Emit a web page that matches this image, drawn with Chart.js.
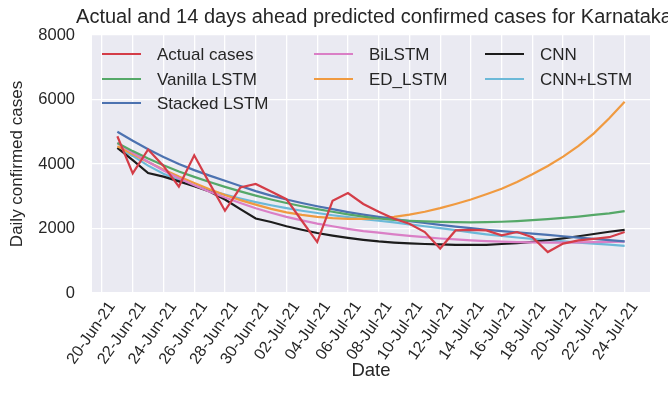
<!DOCTYPE html>
<html>
<head>
<meta charset="utf-8">
<script src="https://cdn.jsdelivr.net/npm/chart.js@4.4.0/dist/chart.umd.min.js"></script>
<style>
  html, body { margin: 0; padding: 0; background: #fff; }
  #wrap { width: 668px; height: 407px; }
</style>
</head>
<body>
<div id="wrap"><canvas id="myChart"></canvas></div>
<script>
'use strict'

// ------------------------- Data -------------------------------------- //
const dates = [
    '21-Jun-21', '22-Jun-21', '23-Jun-21', '24-Jun-21', '25-Jun-21',
    '26-Jun-21', '27-Jun-21', '28-Jun-21', '29-Jun-21', '30-Jun-21',
    '01-Jul-21', '02-Jul-21', '03-Jul-21', '04-Jul-21', '05-Jul-21',
    '06-Jul-21', '07-Jul-21', '08-Jul-21', '09-Jul-21', '10-Jul-21',
    '11-Jul-21', '12-Jul-21', '13-Jul-21', '14-Jul-21', '15-Jul-21',
    '16-Jul-21', '17-Jul-21', '18-Jul-21', '19-Jul-21', '20-Jul-21',
    '21-Jul-21', '22-Jul-21', '23-Jul-21', '24-Jul-21'
];

const tickLabels = [
    '20-Jun-21', '22-Jun-21', '24-Jun-21', '26-Jun-21', '28-Jun-21', '30-Jun-21',
    '02-Jul-21', '04-Jul-21', '06-Jul-21', '08-Jul-21', '10-Jul-21', '12-Jul-21',
    '14-Jul-21', '16-Jul-21', '18-Jul-21', '20-Jul-21', '22-Jul-21', '24-Jul-21'
];

const yTicks = [0, 2000, 4000, 6000, 8000];

const actualCases = [4860, 3710, 4450, 3940, 3300, 4270, 3400, 2550, 3270, 3380,
    3150, 2910, 2240, 1580, 2860, 3100, 2760, 2520, 2300, 2150,
    1890, 1380, 1940, 1960, 1940, 1790, 1890, 1730, 1270, 1530,
    1630, 1680, 1730, 1890];
const vanillaLstm = [4650, 4400, 4170, 3960, 3770, 3600, 3440, 3290, 3150, 3020,
    2900, 2790, 2690, 2600, 2520, 2440, 2370, 2310, 2270, 2240,
    2220, 2205, 2195, 2190, 2195, 2210, 2230, 2260, 2290, 2330,
    2370, 2420, 2470, 2540];
const stackedLstm = [5000, 4720, 4460, 4220, 4000, 3810, 3640, 3480, 3320, 3160,
    3020, 2900, 2790, 2690, 2600, 2510, 2430, 2360, 2290, 2230,
    2170, 2110, 2060, 2010, 1960, 1920, 1880, 1840, 1800, 1760,
    1720, 1680, 1640, 1600];
const biLstm = [4650, 4350, 4070, 3800, 3560, 3340, 3140, 2960, 2790, 2630,
    2490, 2360, 2250, 2150, 2070, 1990, 1920, 1870, 1820, 1770,
    1730, 1690, 1660, 1630, 1610, 1590, 1580, 1570, 1565, 1565,
    1570, 1575, 1585, 1595];
const edLstm = [4550, 4300, 4060, 3830, 3610, 3410, 3220, 3040, 2880, 2740,
    2610, 2500, 2420, 2360, 2320, 2300, 2300, 2320, 2360, 2430,
    2520, 2630, 2760, 2900, 3060, 3230, 3440, 3680, 3940, 4230,
    4560, 4950, 5420, 5930];
const cnn = [4500, 4120, 3720, 3610, 3460, 3310, 3150, 2900, 2600, 2310,
    2200, 2070, 1960, 1860, 1780, 1710, 1650, 1600, 1565, 1540,
    1520, 1505, 1495, 1490, 1495, 1520, 1545, 1585, 1635, 1695,
    1760, 1830, 1900, 1960];
const cnnLstm = [4500, 4250, 3950, 3700, 3500, 3330, 3180, 3050, 2930, 2820,
    2720, 2630, 2550, 2480, 2410, 2350, 2290, 2240, 2190, 2130,
    2070, 2010, 1950, 1880, 1820, 1770, 1720, 1680, 1640, 1600,
    1560, 1530, 1500, 1460];

const seriesNames = ['Actual cases', 'Vanilla LSTM', 'Stacked LSTM', 'BiLSTM', 'ED_LSTM', 'CNN', 'CNN+LSTM'];
const seriesValues = [actualCases, vanillaLstm, stackedLstm, biLstm, edLstm, cnn, cnnLstm];
const colors = ['#d43d48', '#55a868', '#4c72b0', '#da7fc6', '#f09a40', '#1c1c1c', '#6cb9d8'];

const titleText = 'Actual and 14 days ahead predicted confirmed cases for Karnataka';

// ------------------------- Funciones -------------------------------------- //
const FONT = '"Liberation Sans", Arial, sans-serif';
const TEXT = '#262626';

// days since 20-Jun-21
function dayNum(label) {
    let parts = label.split('-');
    return (parts[1] === 'Jun' ? 0 : 30) + parseInt(parts[0], 10) - 20;
}

function makeDataset(i) {
    return {
        label: seriesNames[i],
        data: dates.map((d, k) => ({x: dayNum(d), y: seriesValues[i][k]})),
        borderColor: colors[i],
        backgroundColor: colors[i],
        borderWidth: 2.2,
        pointRadius: 0,
        tension: 0
    };
}

// seaborn-like grey panel
const panelPlugin = {
    id: 'panel',
    beforeDraw(chart) {
        const {ctx, chartArea: a} = chart;
        ctx.save();
        ctx.fillStyle = '#fff';
        ctx.fillRect(0, 0, chart.width, chart.height);
        ctx.fillStyle = '#eaeaf2';
        ctx.fillRect(a.left, a.top, a.right - a.left, a.bottom - a.top);
        ctx.restore();
    }
};

// title centred on the axes, like matplotlib
const titlePlugin = {
    id: 'axTitle',
    afterDraw(chart) {
        const {ctx, chartArea: a} = chart;
        ctx.save();
        ctx.font = '20px ' + FONT;
        ctx.fillStyle = TEXT;
        ctx.textAlign = 'center';
        ctx.textBaseline = 'middle';
        ctx.fillText(titleText, (a.left + a.right) / 2 + 3, 17);
        ctx.restore();
    }
};

// 3-column legend filled column by column
const legendPlugin = {
    id: 'colLegend',
    afterDatasetsDraw(chart) {
        const {ctx} = chart;
        const cols = [[0, 1, 2], [3, 4], [5, 6]];
        const colX = [102, 314, 485];
        const rowY = [54, 79, 103];
        ctx.save();
        ctx.font = '17px ' + FONT;
        ctx.textBaseline = 'middle';
        ctx.lineWidth = 2.2;
        cols.forEach((items, c) => {
            items.forEach((idx, r) => {
                const ds = chart.data.datasets[idx];
                ctx.strokeStyle = ds.borderColor;
                ctx.beginPath();
                ctx.moveTo(colX[c], rowY[r]);
                ctx.lineTo(colX[c] + 39, rowY[r]);
                ctx.stroke();
                ctx.fillStyle = TEXT;
                ctx.fillText(ds.label, colX[c] + 55, rowY[r] + 1);
            });
        });
        ctx.restore();
    }
};

// ------------------------------ Main ------------------------------ //
const ctx = document.getElementById('myChart').getContext('2d');
const myChart = new Chart(ctx, {
    type: 'line',
    data: {
        datasets: seriesNames.map((n, i) => makeDataset(i))
    },
    options: {
        responsive: true,
        maintainAspectRatio: false,
        animation: false,
        layout: {
            padding: {top: 35, left: 0, right: 18, bottom: 0}
        },
        plugins: {
            legend: {display: false},
            title: {display: false},
            tooltip: {enabled: false}
        },
        scales: {
            x: {
                type: 'linear',
                min: -0.65,
                max: 35.65,
                afterBuildTicks: s => { s.ticks = tickLabels.map(t => ({value: dayNum(t)})); },
                afterFit: s => { s.height = 114; },
                ticks: {
                    autoSkip: false,
                    minRotation: 55,
                    maxRotation: 55,
                    padding: 5,
                    labelOffset: 10,
                    color: TEXT,
                    font: {family: FONT, size: 16},
                    callback: v => {
                        let t = tickLabels.find(l => dayNum(l) === v);
                        return t === undefined ? '' : t;
                    }
                },
                grid: {color: '#ffffff', lineWidth: 1.3, drawTicks: false},
                border: {display: false},
                title: {
                    display: true,
                    text: 'Date',
                    color: TEXT,
                    font: {family: FONT, size: 18.5},
                    padding: {top: 0, bottom: 25}
                }
            },
            y: {
                min: 0,
                max: 8000,
                afterBuildTicks: s => { s.ticks = yTicks.map(v => ({value: v})); },
                afterFit: s => { s.width = 92; },
                ticks: {
                    padding: 17,
                    color: TEXT,
                    font: {family: FONT, size: 16.5},
                    callback: v => String(v)
                },
                grid: {color: '#ffffff', lineWidth: 1.3, drawTicks: false},
                border: {display: false},
                title: {
                    display: true,
                    text: 'Daily confirmed cases',
                    color: TEXT,
                    font: {family: FONT, size: 17},
                    padding: {top: 7, bottom: 0}
                }
            }
        }
    },
    plugins: [panelPlugin, titlePlugin, legendPlugin]
});
</script>
</body>
</html>
